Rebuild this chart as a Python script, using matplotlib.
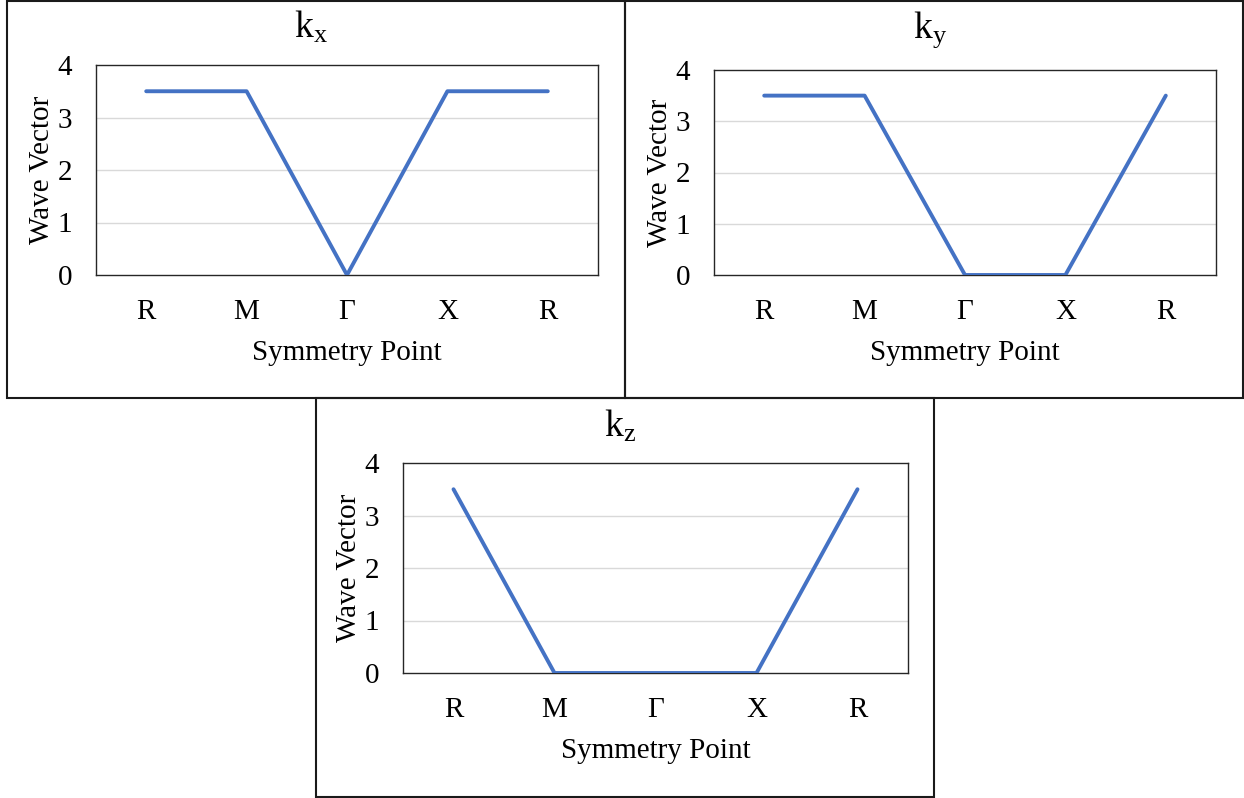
import matplotlib
matplotlib.use("Agg")
import matplotlib.pyplot as plt
from matplotlib.patches import Rectangle

# data
points = ['R', 'M', 'Γ', 'X', 'R']
kx = [3.5, 3.5, 0, 3.5, 3.5]
ky = [3.5, 3.5, 0, 0, 3.5]
kz = [3.5, 0, 0, 0, 3.5]
titles = ['x', 'y', 'z']

plt.rcParams['font.family'] = ['Liberation Serif', 'DejaVu Serif']

W, H = 1244, 798
fig = plt.figure(figsize=(W / 100, H / 100), dpi=100)


def px(x0, y0, x1, y1):
    # pixel box (top-left origin) -> figure fraction
    return [x0 / W, 1 - y1 / H, (x1 - x0) / W, (y1 - y0) / H]


# outer frames of the three panels
for (x0, y0, x1, y1) in [(7, 1, 625, 398), (625, 1, 1243, 398), (316, 398, 934, 797)]:
    fig.patches.append(Rectangle((x0 / W, 1 - y1 / H), (x1 - x0) / W, (y1 - y0) / H,
                                 transform=fig.transFigure, fill=False,
                                 edgecolor='#1a1a1a', linewidth=1.5, zorder=0))

panels = [
    (kx, titles[0], (96, 65, 598, 275), 311, 27),
    (ky, titles[1], (714, 70, 1216, 275), 930, 30),
    (kz, titles[2], (403, 463, 908, 673), 620, 426),
]

for vals, sub, box, tx, ty in panels:
    ax = fig.add_axes(px(*box))
    ax.plot(range(len(points)), vals, color='#4472C4', linewidth=2.8,
            solid_capstyle='round', solid_joinstyle='round', zorder=3)
    ax.set_xlim(-0.5, len(points) - 0.5)
    ax.set_ylim(0, 4)
    ax.set_yticks([0, 1, 2, 3, 4])
    ax.set_xticks(range(len(points)))
    ax.set_xticklabels(points)
    ax.tick_params(length=0)
    ax.tick_params(axis='x', labelsize=21, pad=17)
    ax.tick_params(axis='y', labelsize=21, pad=17)
    for y in [1, 2, 3]:
        ax.axhline(y, color='#D9D9D9', linewidth=1, zorder=1)
    for s in ax.spines.values():
        s.set_color('#262626')
        s.set_linewidth(1)
    ax.set_xlabel('Symmetry Point', fontsize=21, labelpad=11)
    ax.set_ylabel('Wave Vector', fontsize=21, labelpad=2)
    fig.text(tx / W, 1 - ty / H, '$\\mathregular{k_' + sub + '}$', fontsize=27,
             ha='center', va='center')

fig.savefig('out.png', dpi=100)
